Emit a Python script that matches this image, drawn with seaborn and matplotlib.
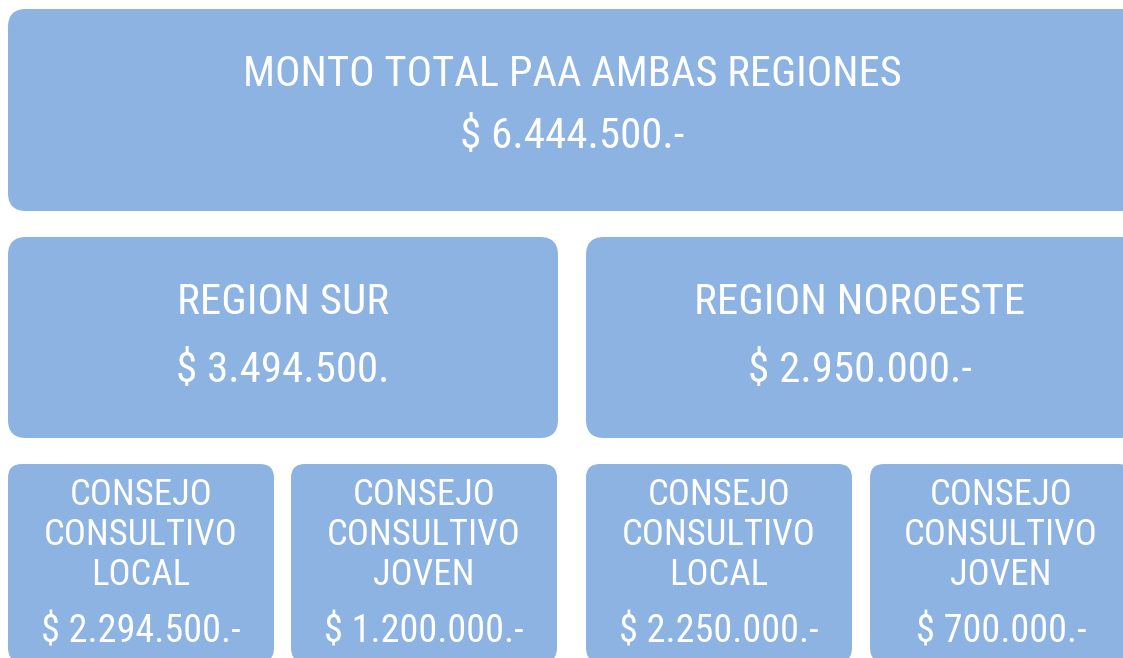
import matplotlib
matplotlib.use("Agg")
import matplotlib.pyplot as plt
from matplotlib.patches import FancyBboxPatch
import seaborn as sns

# datos del organigrama
total_label = "MONTO TOTAL PAA AMBAS REGIONES"
total_amount = "$ 6.444.500.-"
region_labels = ["REGION SUR", "REGION NOROESTE"]
region_amounts = ["$ 3.494.500.", "$ 2.950.000.-"]
consejo_labels = ["CONSEJO\nCONSULTIVO\nLOCAL", "CONSEJO\nCONSULTIVO\nJOVEN",
                  "CONSEJO\nCONSULTIVO\nLOCAL", "CONSEJO\nCONSULTIVO\nJOVEN"]
consejo_amounts = ["$ 2.294.500.-", "$ 1.200.000.-", "$ 2.250.000.-", "$ 700.000.-"]

sns.set_style("white")
plt.rcParams["font.family"] = ["Roboto Condensed", "Archivo Narrow", "Liberation Sans", "DejaVu Sans"]

box_color = "#8db3e2"

fig = plt.figure(figsize=(11.23, 6.58), dpi=100)
ax = fig.add_axes([0, 0, 1, 1])
ax.set_xlim(0, 1123)
ax.set_ylim(658, 0)
ax.axis("off")


def box(x0, y0, x1, y1, r=18):
    p = FancyBboxPatch((x0 + r, y0 + r), (x1 - x0) - 2 * r, (y1 - y0) - 2 * r,
                       boxstyle=f"round,pad={r}", fc=box_color, ec="none")
    ax.add_patch(p)


def txt(x, y, s, size, ls=1.0):
    ax.text(x, y, s, color="white", fontsize=size, ha="center", va="center",
            linespacing=ls, fontweight="normal")


# total
box(8, 9, 1140, 211)
txt(572, 74, total_label, 30.6)
txt(572, 137, total_amount, 31)

# regiones
region_boxes = [(8, 558), (586, 1140)]
region_centers = [283, 860]
for (x0, x1), cx, lab, amt in zip(region_boxes, region_centers, region_labels, region_amounts):
    box(x0, 237, x1, 438)
    txt(cx, 302, lab, 31)
    txt(cx, 370, amt, 31)

# consejos
consejo_boxes = [(8, 274), (291, 557), (586, 852), (870, 1132)]
consejo_centers = [141, 424, 719, 1001]
for (x0, x1), cx, lab, amt in zip(consejo_boxes, consejo_centers, consejo_labels, consejo_amounts):
    box(x0, 464, x1, 662, r=14)
    txt(cx, 535, lab, 26.5, ls=1.14)
    txt(cx, 632, amt, 27.5)

fig.savefig("out.png", dpi=100)
